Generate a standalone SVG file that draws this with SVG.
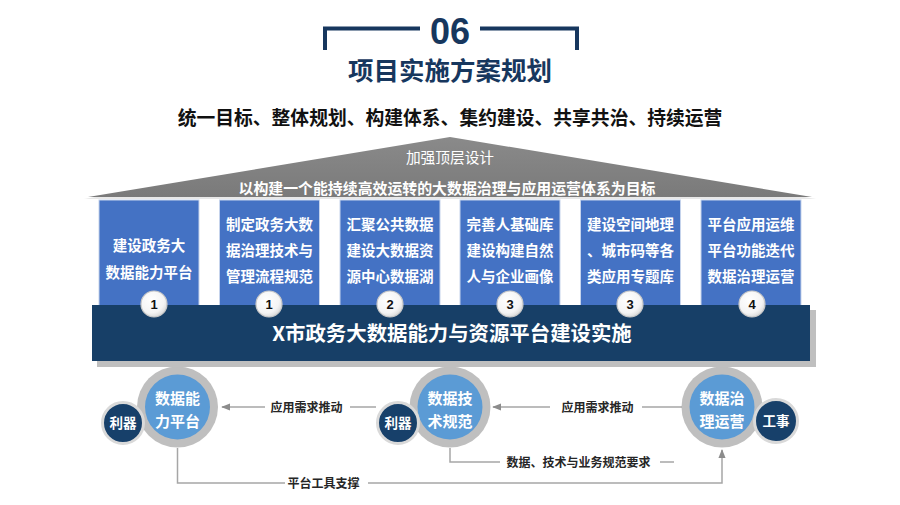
<svg xmlns="http://www.w3.org/2000/svg" width="900" height="505" viewBox="0 0 900 505">
  <defs>
    <style>
      .cjk{font-family:"Noto Sans CJK SC","Liberation Sans",sans-serif;}
      .title{fill:#17375e;font-weight:700;}
      .box{fill:#4472c4;stroke:#c5d3ec;stroke-width:1;}
      .boxt{fill:#ffffff;font-size:14.5px;font-weight:700;text-anchor:middle;}
      .numc{fill:url(#numg);stroke:#c8c8c8;stroke-width:1.2;}
      .numt{font-family:"Liberation Sans",sans-serif;font-size:13px;font-weight:700;fill:#111;text-anchor:middle;}
      .ring{fill:#bfbfbf;}
      .inner{fill:#5b9bd5;}
      .ct{fill:#ffffff;font-size:15px;font-weight:700;text-anchor:middle;}
      .small{fill:#17406a;stroke:#d9d9d9;stroke-width:3;}
      .st{fill:#ffffff;font-size:13.5px;font-weight:700;text-anchor:middle;}
      .lbl{fill:#262626;font-size:12px;font-weight:700;text-anchor:middle;}
      .conn{fill:none;stroke:#a6a6a6;stroke-width:1.5;}
    </style>
    <radialGradient id="numg" cx="0.4" cy="0.35" r="0.7">
      <stop offset="0" stop-color="#ffffff"/>
      <stop offset="0.7" stop-color="#f4f4f4"/>
      <stop offset="1" stop-color="#d6d6d6"/>
    </radialGradient>
    <linearGradient id="roofg" x1="0" y1="0" x2="0" y2="1">
      <stop offset="0" stop-color="#8a8a8a"/>
      <stop offset="1" stop-color="#7a7a7a"/>
    </linearGradient>
    <marker id="arr" viewBox="0 0 10 10" refX="9" refY="5" markerWidth="6" markerHeight="6" orient="auto">
      <path d="M0,1 L10,5 L0,9 Z" fill="#8c8c8c"/>
    </marker>
  </defs>

  <rect width="900" height="505" fill="#ffffff"/>

  <!-- Title -->
  <g id="title">
    <path d="M325,50 V28.5 H420" fill="none" stroke="#17375e" stroke-width="4"/>
    <path d="M480,28.5 H577 V50" fill="none" stroke="#17375e" stroke-width="4"/>
    <text x="450" y="44" font-family="Liberation Sans,sans-serif" font-size="36" font-weight="700" fill="#17375e" text-anchor="middle">06</text>
    <text class="cjk title" x="450" y="80" font-size="25.5" text-anchor="middle">项目实施方案规划</text>
    <text class="cjk" x="450" y="125" font-size="18.8" font-weight="700" fill="#111111" text-anchor="middle">统一目标、整体规划、构建体系、集约建设、共享共治、持续运营</text>
  </g>

  <!-- Roof -->
  <g id="roof">
    <polygon points="84,199 450,139 816,199" fill="#d9d9d9" opacity="0.6"/>
    <polygon points="88,197 450,137 812,197" fill="url(#roofg)"/>
    <text class="cjk" x="450" y="163" font-size="14.7" fill="#ffffff" text-anchor="middle">加强顶层设计</text>
    <text class="cjk" x="447" y="194" font-size="14.9" font-weight="700" fill="#ffffff" text-anchor="middle">以构建一个能持续高效运转的大数据治理与应用运营体系为目标</text>
  </g>

  <!-- Pillars -->
  <g id="pillar1">
    <rect class="box" x="99" y="200" width="100" height="108"/>
    <text class="cjk boxt" x="149" y="250.5">建设政务大</text>
    <text class="cjk boxt" x="149" y="277.5">数据能力平台</text>
  </g>
  <g id="pillar2">
    <rect class="box" x="219.5" y="200" width="100" height="108"/>
    <text class="cjk boxt" x="269.5" y="230">制定政务大数</text>
    <text class="cjk boxt" x="269.5" y="256">据治理技术与</text>
    <text class="cjk boxt" x="269.5" y="282">管理流程规范</text>
  </g>
  <g id="pillar3">
    <rect class="box" x="340" y="200" width="100" height="108"/>
    <text class="cjk boxt" x="390" y="230">汇聚公共数据</text>
    <text class="cjk boxt" x="390" y="256">建设大数据资</text>
    <text class="cjk boxt" x="390" y="282">源中心数据湖</text>
  </g>
  <g id="pillar4">
    <rect class="box" x="460" y="200" width="100" height="108"/>
    <text class="cjk boxt" x="510" y="230">完善人基础库</text>
    <text class="cjk boxt" x="510" y="256">建设构建自然</text>
    <text class="cjk boxt" x="510" y="282">人与企业画像</text>
  </g>
  <g id="pillar5">
    <rect class="box" x="580.5" y="200" width="100" height="108"/>
    <text class="cjk boxt" x="630.5" y="230">建设空间地理</text>
    <text class="cjk boxt" x="630.5" y="256">、城市码等各</text>
    <text class="cjk boxt" x="630.5" y="282">类应用专题库</text>
  </g>
  <g id="pillar6">
    <rect class="box" x="701" y="200" width="100" height="108"/>
    <text class="cjk boxt" x="751" y="230">平台应用运维</text>
    <text class="cjk boxt" x="751" y="256">平台功能迭代</text>
    <text class="cjk boxt" x="751" y="282">数据治理运营</text>
  </g>

  <!-- Big circles -->
  <g id="circle-platform">
    <circle class="ring" cx="177.5" cy="407" r="40.5"/>
    <circle class="inner" cx="177.5" cy="407" r="32.5"/>
    <text class="cjk ct" x="177.5" y="403.5">数据能</text>
    <text class="cjk ct" x="177.5" y="427">力平台</text>
  </g>
  <g id="circle-standard">
    <circle class="ring" cx="450" cy="407" r="40.5"/>
    <circle class="inner" cx="450" cy="407" r="32.5"/>
    <text class="cjk ct" x="450" y="403.5">数据技</text>
    <text class="cjk ct" x="450" y="427">术规范</text>
  </g>
  <g id="circle-operation">
    <circle class="ring" cx="722" cy="407" r="40.5"/>
    <circle class="inner" cx="722" cy="407" r="32.5"/>
    <text class="cjk ct" x="722" y="403.5">数据治</text>
    <text class="cjk ct" x="722" y="427">理运营</text>
  </g>

  <!-- Main bar -->
  <g id="main-bar">
    <rect x="97" y="310" width="719" height="57" fill="#bfbfbf"/>
    <rect x="92" y="305" width="718" height="56" fill="#173f67"/>
    <text class="cjk" x="452" y="341" font-size="20.4" font-weight="700" fill="#ffffff" text-anchor="middle">X市政务大数据能力与资源平台建设实施</text>
  </g>

  <!-- Number badges -->
  <g id="badges">
    <circle class="numc" cx="154" cy="304" r="13"/>
    <text class="numt" x="154" y="308.5">1</text>
    <circle class="numc" cx="269" cy="304" r="13"/>
    <text class="numt" x="269" y="308.5">1</text>
    <circle class="numc" cx="390" cy="304" r="13"/>
    <text class="numt" x="390" y="308.5">2</text>
    <circle class="numc" cx="510" cy="304" r="13"/>
    <text class="numt" x="510" y="308.5">3</text>
    <circle class="numc" cx="630" cy="304" r="13"/>
    <text class="numt" x="630" y="308.5">3</text>
    <circle class="numc" cx="752" cy="304" r="13"/>
    <text class="numt" x="752" y="308.5">4</text>
  </g>

  <!-- Small circles -->
  <g id="tool1">
    <circle class="small" cx="123" cy="423" r="20.5"/>
    <text class="cjk st" x="123" y="428">利器</text>
  </g>
  <g id="tool2">
    <circle class="small" cx="398" cy="423" r="20.5"/>
    <text class="cjk st" x="398" y="428">利器</text>
  </g>
  <g id="work">
    <circle class="small" cx="776" cy="421" r="21.5"/>
    <text class="cjk st" x="776" y="426">工事</text>
  </g>

  <!-- Connectors -->
  <g id="connectors">
    <path class="conn" d="M265,407 H222" marker-end="url(#arr)"/>
    <path class="conn" d="M350,407 H376"/>
    <text class="cjk lbl" x="306.5" y="411.5">应用需求推动</text>

    <path class="conn" d="M550,407 H493" marker-end="url(#arr)"/>
    <path class="conn" d="M642,407 H682"/>
    <text class="cjk lbl" x="597.5" y="411.5">应用需求推动</text>

    <path class="conn" d="M177.5,448 V483 H285"/>
    <path class="conn" d="M368,483 H722 V450" marker-end="url(#arr)"/>
    <text class="cjk lbl" x="323.5" y="487.5">平台工具支撑</text>

    <path class="conn" d="M450,448 V462 H500"/>
    <path class="conn" d="M660,462 H674"/>
    <text class="cjk lbl" x="578.5" y="466.5">数据、技术与业务规范要求</text>
  </g>
</svg>
